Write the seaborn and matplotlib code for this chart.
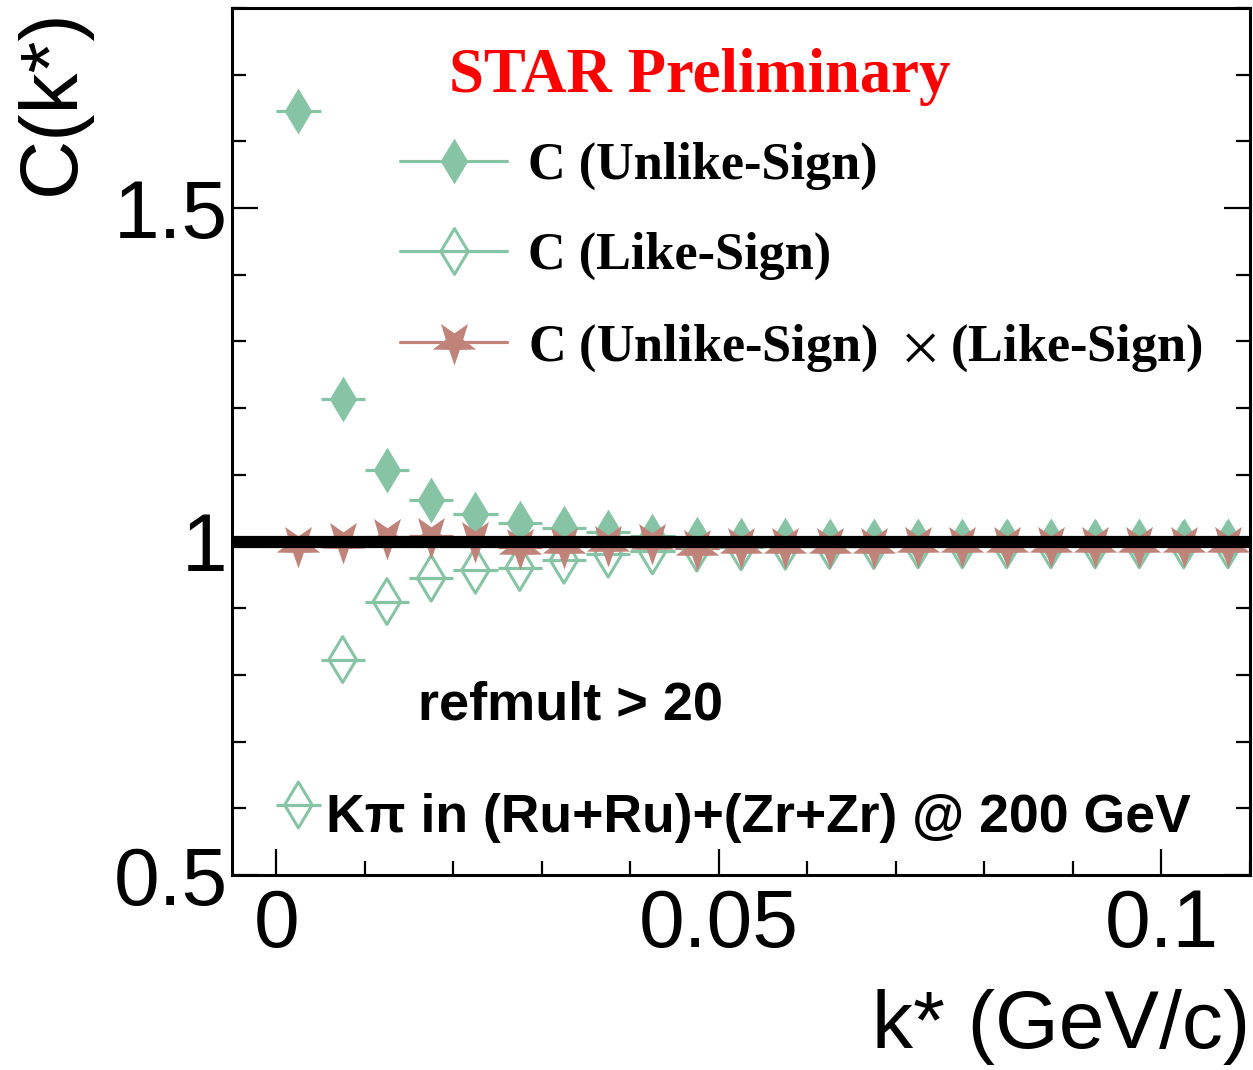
import matplotlib
matplotlib.use("Agg")
import matplotlib.pyplot as plt
from matplotlib.path import Path
from matplotlib.lines import Line2D
import numpy as np
import pandas as pd
import seaborn as sns

# ---------------- data ----------------
k_star = [0.0025, 0.0075, 0.0125, 0.0175, 0.0225, 0.0275, 0.0325, 0.0375,
          0.0425, 0.0475, 0.0525, 0.0575, 0.0625, 0.0675, 0.0725, 0.0775,
          0.0825, 0.0875, 0.0925, 0.0975, 0.1025, 0.1075]
c_unlike = [1.646, 1.214, 1.107, 1.063, 1.042, 1.028, 1.020, 1.014,
            1.009, 1.004, 1.002, 1.002, 1.001, 1.001, 1.001, 1.001,
            1.001, 1.001, 1.001, 1.001, 1.001, 1.001]
c_like = [0.605, 0.823, 0.910, 0.945, 0.957, 0.961, 0.972, 0.981,
          0.986, 0.990, 0.992, 0.993, 0.994, 0.994, 0.995, 0.995,
          0.995, 0.995, 0.995, 0.995, 0.995, 0.995]
c_product = [0.995, 1.001, 1.007, 1.008, 1.002, 0.992, 0.993, 0.997,
             0.999, 0.990, 0.993, 0.994, 0.994, 0.994, 0.995, 0.995,
             0.995, 0.995, 0.995, 0.995, 0.995, 0.995]
bin_half_width = 0.0025

series_labels = ["C (Unlike-Sign)", "C (Like-Sign)",
                 r"C (Unlike-Sign)  $\times$ (Like-Sign)"]
x_ticks = [0, 0.05, 0.1]
x_tick_labels = ["0", "0.05", "0.1"]
y_ticks = [0.5, 1.0, 1.5]
y_tick_labels = ["0.5", "1", "1.5"]

GREEN = "#86C4A5"
PINK = "#C08379"

# ---------------- style ----------------
sns.set_theme(style="ticks")
plt.rcParams["font.family"] = ["Liberation Sans", "DejaVu Sans"]
plt.rcParams["mathtext.fontset"] = "stix"
for key in ["text.color", "axes.labelcolor", "xtick.color", "ytick.color",
            "axes.edgecolor", "legend.labelcolor"]:
    plt.rcParams[key] = "black"

W, H = 1253, 1070
fig = plt.figure(figsize=(W / 100, H / 100), dpi=100)
fig.patch.set_facecolor("white")
ax_l, ax_r, ax_t, ax_b = 232, 1250, 8, 875
ax = fig.add_axes([ax_l / W, (H - ax_b) / H, (ax_r - ax_l) / W, (ax_b - ax_t) / H])
ax.set_facecolor("white")

# markers
diamond = Path([(0, 1), (0.6, 0), (0, -1), (-0.6, 0), (0, 1)],
               [Path.MOVETO, Path.LINETO, Path.LINETO, Path.LINETO, Path.CLOSEPOLY])
ang = np.deg2rad(np.arange(10) * 36 - 90)
rad = np.where(np.arange(10) % 2 == 0, 1.0, 0.40)
star_v = np.column_stack([rad * np.cos(ang), rad * np.sin(ang)])
star_v = np.vstack([star_v, star_v[:1]])
star = Path(star_v, [Path.MOVETO] + [Path.LINETO] * 9 + [Path.CLOSEPOLY])

df = pd.DataFrame({"k": k_star, "unlike": c_unlike, "like": c_like, "prod": c_product})

# horizontal (bin width) error bars
for col, color in [("unlike", GREEN), ("like", GREEN), ("prod", PINK)]:
    ax.errorbar(df["k"], df[col], xerr=bin_half_width, fmt="none",
                ecolor=color, elinewidth=2.3, capsize=0, zorder=2)

msize = 33
sns.scatterplot(data=df, x="k", y="unlike", marker=diamond, s=msize ** 2,
                color=GREEN, edgecolor=GREEN, linewidth=0, ax=ax, zorder=3)
sns.scatterplot(data=df, x="k", y="like", marker=diamond, s=msize ** 2,
                color=GREEN, facecolor="none", edgecolor=GREEN, linewidth=2.2,
                ax=ax, zorder=3)
sns.scatterplot(data=df, x="k", y="prod", marker=star, s=msize ** 2,
                color=PINK, edgecolor=PINK, linewidth=0, ax=ax, zorder=4)

ax.axhline(1.0, color="black", lw=8.8, zorder=6)

# axes
ax.set_xlim(-0.005, 0.11)
ax.set_ylim(0.5, 1.8)
ax.set_xticks(x_ticks)
ax.set_xticklabels(x_tick_labels)
ax.set_yticks(y_ticks)
ax.set_yticklabels(y_tick_labels)
ax.xaxis.set_minor_locator(matplotlib.ticker.MultipleLocator(0.01))
ax.yaxis.set_minor_locator(matplotlib.ticker.MultipleLocator(0.1))
ax.tick_params(axis="both", which="both", direction="in", color="black",
               labelcolor="black", labelsize=59, width=1.6)
ax.tick_params(axis="both", which="major", length=19)
ax.tick_params(axis="both", which="minor", length=10)
ax.tick_params(axis="x", which="both", top=False, bottom=True, pad=9)
ax.tick_params(axis="y", which="both", left=True, right=True, pad=3)
for s in ax.spines.values():
    s.set_color("black")
    s.set_linewidth(2.2)

ax.set_xlabel("k* (GeV/c)", fontsize=59, loc="right", color="black")
ax.set_ylabel("C(k*)", fontsize=59, loc="top", color="black")
ax.xaxis.set_label_coords(1.0, -0.131)
ax.yaxis.set_label_coords(-0.139, 1.0)

# texts
ax.text(0.459, 0.903, "STAR Preliminary", transform=ax.transAxes, color="red",
        fontsize=45.2, fontweight="bold", family=["Liberation Serif"],
        ha="center", va="baseline")
ax.text(0.183, 0.179, "refmult > 20", transform=ax.transAxes, color="black",
        fontsize=39, fontweight="bold", ha="left", va="baseline")
ax.text(0.0925, 0.0496, "K\u03c0 in (Ru+Ru)+(Zr+Zr) @ 200 GeV", transform=ax.transAxes,
        color="black", fontsize=38.5, fontweight="bold", ha="left", va="baseline")

# legend
handles = [
    Line2D([], [], color=GREEN, lw=2.3, marker=diamond, markersize=msize,
           markerfacecolor=GREEN, markeredgecolor=GREEN, markeredgewidth=0),
    Line2D([], [], color=GREEN, lw=2.3, marker=diamond, markersize=msize,
           markerfacecolor="none", markeredgecolor=GREEN, markeredgewidth=2.2),
    Line2D([], [], color=PINK, lw=2.3, marker=star, markersize=msize,
           markerfacecolor=PINK, markeredgecolor=PINK, markeredgewidth=0),
]
leg = ax.legend(handles, series_labels, loc="upper left",
                bbox_to_anchor=(400 / W, (H - 142) / H), bbox_transform=fig.transFigure,
                frameon=False, borderpad=0, borderaxespad=0, handlelength=2.05,
                handletextpad=0.40, labelspacing=0.80,
                prop={"family": "Liberation Serif", "weight": "bold", "size": 37.6})
for t in leg.get_texts():
    t.set_color("black")

fig.savefig("out.png", dpi=100, facecolor="white")
